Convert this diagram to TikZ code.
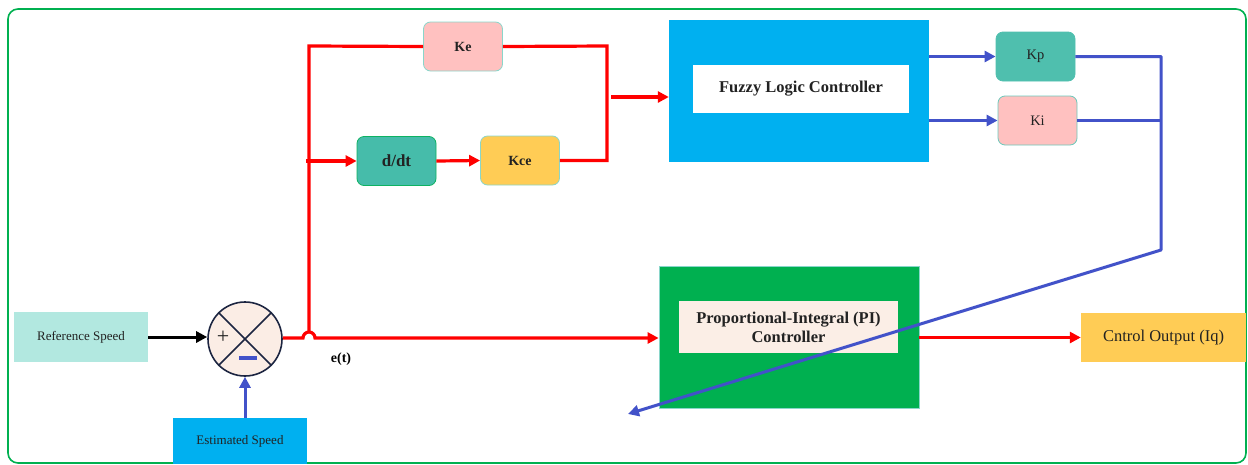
\documentclass[tikz,border=0pt]{standalone}
\usepackage{fontspec}
\setmainfont{Liberation Serif}
\usetikzlibrary{arrows.meta}
\definecolor{frameGreen}{HTML}{00B050}
\definecolor{lineRed}{HTML}{FF0000}
\definecolor{lineBlue}{HTML}{4252C9}
\definecolor{refFill}{HTML}{B2E8E0}
\definecolor{sumFill}{HTML}{FBEDE5}
\definecolor{sumEdge}{HTML}{1C2541}
\definecolor{skyFill}{HTML}{00B0F0}
\definecolor{pinkFill}{HTML}{FFC1C0}
\definecolor{tealFill}{HTML}{46BCAA}
\definecolor{goldFill}{HTML}{FFCC55}
\definecolor{mintEdge}{HTML}{8AD6CA}
\definecolor{peachFill}{HTML}{FBEEE6}
\definecolor{textDark}{HTML}{222222}
\tikzset{
  blk/.style={draw=none, minimum width=#1, inner sep=0pt, text=textDark},
  gain/.style={rounded corners=7pt, draw=mintEdge, line width=0.8pt, minimum width=79pt, minimum height=49pt, inner sep=0pt, text=textDark},
  redline/.style={draw=lineRed, line width=3.2pt},
  blueline/.style={draw=lineBlue, line width=3pt},
  tip/.style={-{Triangle[length=11pt,width=11pt]}},
  lbl/.style={font=\fontsize{13}{15}\selectfont},
  klbl/.style={font=\fontsize{14.5}{16}\selectfont},
  blbl/.style={font=\fontsize{14}{16}\selectfont\bfseries}
}
\begin{document}
\begin{tikzpicture}[x=1pt,y=-1pt]
\useasboundingbox (0,0) rectangle (1248,464);
% outer frame
\draw[frameGreen, line width=1.6pt, rounded corners=10pt] (8,9) rectangle (1246,463);

% inputs and summing junction
\node[blk=134pt, minimum height=50pt, fill=refFill, lbl] (ref) at (81,337) {Reference Speed};
\node[blk=134pt, minimum height=46pt, fill=skyFill, lbl] (est) at (240,441) {Estimated Speed};
\node[circle, draw=sumEdge, line width=1.6pt, fill=sumFill, minimum size=74pt, inner sep=0pt] (sum) at (245,339) {};
\draw[sumEdge, line width=1.6pt] (sum.north west) -- (sum.south east) (sum.north east) -- (sum.south west);
\node[font=\fontsize{22}{22}\selectfont, text=textDark, inner sep=0pt] (plus) at (223,337) {+};
\node[fill=lineBlue, minimum width=18pt, minimum height=4pt, inner sep=0pt] (minus) at (248,358) {};
\node[blbl] (et) at (341,359) {e(t)};

% error path blocks
\node[gain, fill=pinkFill, blbl] (ke) at (463,46.5) {Ke};
\node[gain, fill=tealFill, draw=frameGreen!80!tealFill, font=\fontsize{17}{18}\selectfont\bfseries] (ddt) at (396.5,161) {d/dt};
\node[gain, fill=goldFill, blbl] (kce) at (520,160.5) {Kce};

% fuzzy logic controller
\node[blk=260pt, minimum height=142pt, fill=skyFill] (flc) at (799,91) {};
\node[blk=216pt, minimum height=48pt, fill=white, font=\fontsize{16.5}{18}\selectfont\bfseries] (flcin) at (801,89) {Fuzzy Logic Controller};

% gains from the fuzzy controller
\node[gain, fill=tealFill!95!white, draw=tealFill!95!white, klbl] (kp) at (1035.5,56.5) {Kp};
\node[gain, fill=pinkFill, draw=tealFill!80!white, klbl] (ki) at (1037.5,120.5) {Ki};

% PI controller and output
\node[blk=260pt, minimum height=142pt, fill=frameGreen, draw=mintEdge, line width=0.8pt] (pi) at (789,337) {};
\node[blk=219pt, minimum height=52pt, fill=peachFill, align=center, font=\fontsize{16.5}{19}\selectfont\bfseries] (piin) at (788.5,327) {Proportional-Integral (PI)\\Controller};
\node[blk=165pt, minimum height=49pt, fill=goldFill, font=\fontsize{16.5}{18}\selectfont] (out) at (1163.5,337.5) {Cntrol Output (Iq)};

% connectors
\draw[line width=3pt, tip] (ref.east) -- (sum.west |- ref.east);
\draw[blueline, tip, lineBlue] (sum.south |- est.north) -- (sum.south);
\coordinate (hopL) at (303,338);
\coordinate (hopT) at (309,332);
\draw[redline, tip, lineRed] (sum.east |- hopL) -- (hopL) arc[start angle=180, end angle=0, radius=6pt] -- (pi.west |- hopL);
\coordinate (tl) at (309,46);
\coordinate (tr) at (607,46);
\coordinate (br) at (607,160.5);
\coordinate (split) at (306,161);
\coordinate (join) at (611,97);
\draw[redline, line join=miter] (hopT) -- (tl) -- (ke.west);
\draw[redline, line join=miter] (ke.east) -- (tr) -- (br) -- (kce.east);
\draw[redline, tip, lineRed] (split) -- (ddt.west);
\draw[redline, tip, lineRed] (ddt.east) -- (kce.west);
\draw[redline, tip, lineRed] (join) -- (flc.west |- join);
\draw[redline, tip, lineRed] (pi.east |- out.west) -- (out.west);

\draw[blueline, tip, lineBlue] (flc.east |- kp.west) -- (kp.west);
\draw[blueline, tip, lineBlue] (flc.east |- ki.west) -- (ki.west);
\coordinate (bus) at (1161,56.5);
\coordinate (bend) at (1161,250);
\coordinate (fb) at (628,414);
\draw[blueline] (ki.east) -- (bus |- ki.east);
\draw[blueline, tip, lineBlue, line join=round] (kp.east) -- (bus) -- (bend) -- (fb);
\end{tikzpicture}
\end{document}
